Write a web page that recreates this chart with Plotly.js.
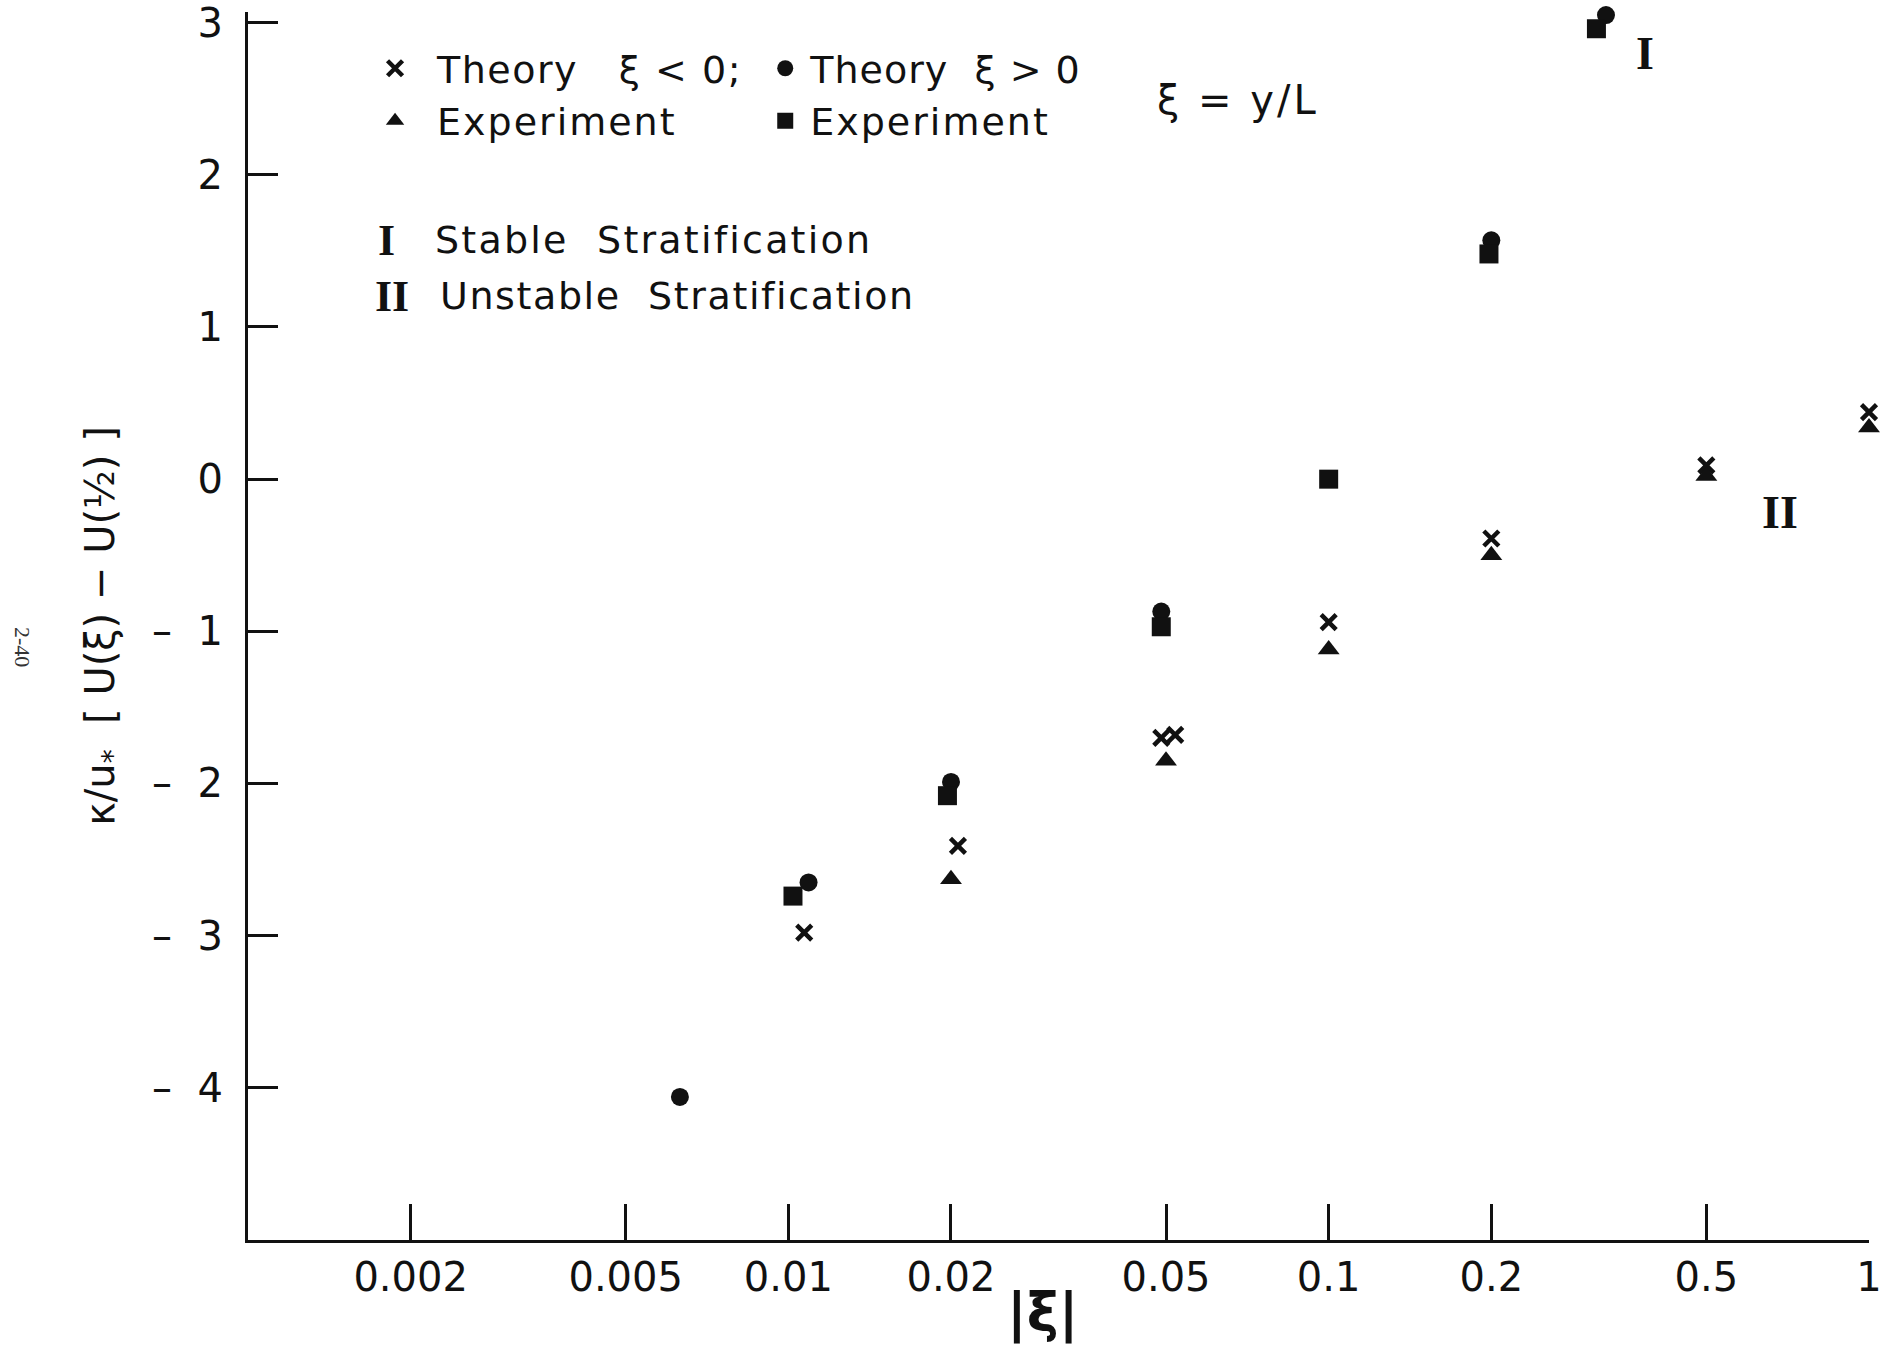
<!DOCTYPE html>
<html>
<head>
<meta charset="utf-8">
<script src="https://cdn.plot.ly/plotly-3.0.1.min.js"></script>
<style>html,body{margin:0;padding:0;background:#fff;}#chart{width:1897px;height:1347px;}</style>
</head>
<body>
<div id="chart"></div>
<script>
// ---- data ----
const xTheoryNeg = [0.0107, 0.0206, 0.049, 0.052, 0.1, 0.2, 0.5, 1.0];
const yTheoryNeg = [-2.98, -2.41, -1.70, -1.68, -0.94, -0.39, 0.09, 0.44];

const xExpUnstable = [0.02, 0.05, 0.1, 0.2, 0.5, 1.0];
const yExpUnstable = [-2.63, -1.85, -1.12, -0.50, 0.02, 0.34];

const xTheoryPos = [0.0063, 0.0109, 0.02, 0.049, 0.2, 0.326];
const yTheoryPos = [-4.06, -2.65, -1.99, -0.87, 1.57, 3.05];

const xExpStable = [0.0102, 0.0197, 0.049, 0.1, 0.198, 0.313];
const yExpStable = [-2.74, -2.08, -0.97, 0.0, 1.48, 2.96];

const xTickVals = [0.002, 0.005, 0.01, 0.02, 0.05, 0.1, 0.2, 0.5, 1];
const xTickText = ["0.002", "0.005", "0.01", "0.02", "0.05", "0.1", "0.2", "0.5", "1"];
const yTickVals = [-4, -3, -2, -1, 0, 1, 2, 3];
const yTickText = ["\u2013\u00a0\u00a04", "\u2013\u00a0\u00a03", "\u2013\u00a0\u00a02", "\u2013\u00a0\u00a01", "0", "1", "2", "3"];

const regionLabels = ["I", "II"];
const regionX = [0.385, 0.685];
const regionY = [2.8, -0.22];

const INK = '#111111';
const SANS = 'DejaVu Sans, Liberation Sans, sans-serif';
const SERIF = 'Liberation Serif, DejaVu Serif, serif';
const sp = (t, px) => '<span style="letter-spacing:' + px + 'px">' + t + '</span>';

const traces = [
  {
    x: xTheoryNeg, y: yTheoryNeg, type: 'scatter', mode: 'markers',
    name: sp('Theory\u00a0\u00a0\u00a0\u03be\u00a0<\u00a00;', 1.5), legend: 'legend', cliponaxis: false,
    marker: {symbol: 'x-thin', size: 15, color: INK, line: {color: INK, width: 4.5}}
  },
  {
    x: xExpUnstable, y: yExpUnstable, type: 'scatter', mode: 'markers',
    name: sp('Experiment', 2), legend: 'legend', cliponaxis: false,
    marker: {symbol: 'triangle-up', size: 19, color: INK, line: {width: 0}}
  },
  {
    x: xTheoryPos, y: yTheoryPos, type: 'scatter', mode: 'markers',
    name: sp('Theory\u00a0\u00a0\u03be\u00a0>\u00a00', 1), legend: 'legend2', cliponaxis: false,
    marker: {symbol: 'circle', size: 18, color: INK, line: {width: 0}}
  },
  {
    x: xExpStable, y: yExpStable, type: 'scatter', mode: 'markers',
    name: sp('Experiment', 2), legend: 'legend2', cliponaxis: false,
    marker: {symbol: 'square', size: 19, color: INK, line: {width: 0}}
  }
];

const annotations = [];
for (let i = 0; i < regionLabels.length; i++) {
  annotations.push({
    x: Math.log10(regionX[i]), y: regionY[i], xref: 'x', yref: 'y',
    text: '<b>' + regionLabels[i] + '</b>', showarrow: false,
    font: {family: SERIF, size: 46, color: INK}
  });
}
// key text (roman numerals + descriptions)
annotations.push({xref: 'paper', yref: 'paper', x: 0.0790, y: 0.8143, xanchor: 'left', yanchor: 'middle',
  text: '<b>I</b>', showarrow: false, font: {family: SERIF, size: 44, color: INK}});
annotations.push({xref: 'paper', yref: 'paper', x: 0.1141, y: 0.8143, xanchor: 'left', yanchor: 'middle',
  text: sp('Stable\u00a0\u00a0Stratification', 2.2), showarrow: false, font: {family: SANS, size: 38, color: INK}});
annotations.push({xref: 'paper', yref: 'paper', x: 0.0770, y: 0.7687, xanchor: 'left', yanchor: 'middle',
  text: '<b>II</b>', showarrow: false, font: {family: SERIF, size: 44, color: INK}});
annotations.push({xref: 'paper', yref: 'paper', x: 0.1172, y: 0.7687, xanchor: 'left', yanchor: 'middle',
  text: sp('Unstable\u00a0\u00a0Stratification', 1.6), showarrow: false, font: {family: SANS, size: 38, color: INK}});
annotations.push({xref: 'paper', yref: 'paper', x: 0.5595, y: 0.9283, xanchor: 'left', yanchor: 'middle',
  text: sp('\u03be\u00a0=\u00a0y/L', 3), showarrow: false, font: {family: SANS, size: 40, color: INK}});
annotations.push({xref: 'paper', yref: 'paper', x: -0.1394, y: 0.4829, xanchor: 'center', yanchor: 'middle',
  text: '2-40', textangle: 90, showarrow: false, font: {family: SERIF, size: 22, color: '#333'}});
// x-axis title placed under the axis
annotations.push({xref: 'paper', yref: 'paper', x: 0.4904, y: -0.0594, xanchor: 'center', yanchor: 'middle',
  text: '<b>|\u03be|</b>', showarrow: false, font: {family: SANS, size: 54, color: INK}});

const legendCommon = {
  xanchor: 'left', yanchor: 'top', bgcolor: 'rgba(0,0,0,0)', borderwidth: 0,
  font: {family: SANS, size: 38, color: INK}, tracegroupgap: 0
};

const layout = {
  width: 1897, height: 1347,
  margin: {l: 248, r: 28, t: 12, b: 107, pad: 0},
  paper_bgcolor: '#ffffff', plot_bgcolor: '#ffffff',
  font: {family: SANS, color: INK},
  showlegend: true,
  legend: Object.assign({x: 0.0648, y: 0.9796, itemwidth: 74}, legendCommon),
  legend2: Object.assign({x: 0.316, y: 0.9796, itemwidth: 40}, legendCommon),
  xaxis: {
    type: 'log', range: [-3, 0], autorange: false,
    tickmode: 'array', tickvals: xTickVals, ticktext: xTickText,
    ticks: 'inside', ticklen: 36, tickwidth: 3, tickcolor: INK,
    showline: true, linewidth: 3, linecolor: INK, mirror: false,
    showgrid: false, zeroline: false,
    tickfont: {family: SANS, size: 40, color: INK},
    ticklabelstandoff: 0, ticklabeloverflow: 'allow',
    automargin: false
  },
  yaxis: {
    range: [-5, 3.07], autorange: false,
    tickmode: 'array', tickvals: yTickVals, ticktext: yTickText,
    ticks: 'inside', ticklen: 30, tickwidth: 3, tickcolor: INK,
    showline: true, linewidth: 3, linecolor: INK, mirror: false,
    showgrid: false, zeroline: false,
    tickfont: {family: SANS, size: 40, color: INK},
    ticklabelstandoff: 14, ticklabeloverflow: 'allow',
    title: {text: '\u03ba/u<sub>*</sub>\u00a0\u00a0[\u00a0U(\u03be)\u00a0\u2212\u00a0U(\u00bd)\u00a0]',
            font: {family: SANS, size: 40, color: INK}, standoff: 26},
    automargin: false
  },
  annotations: annotations
};

Plotly.newPlot('chart', traces, layout, {displayModeBar: false, responsive: false});
</script>
</body>
</html>
